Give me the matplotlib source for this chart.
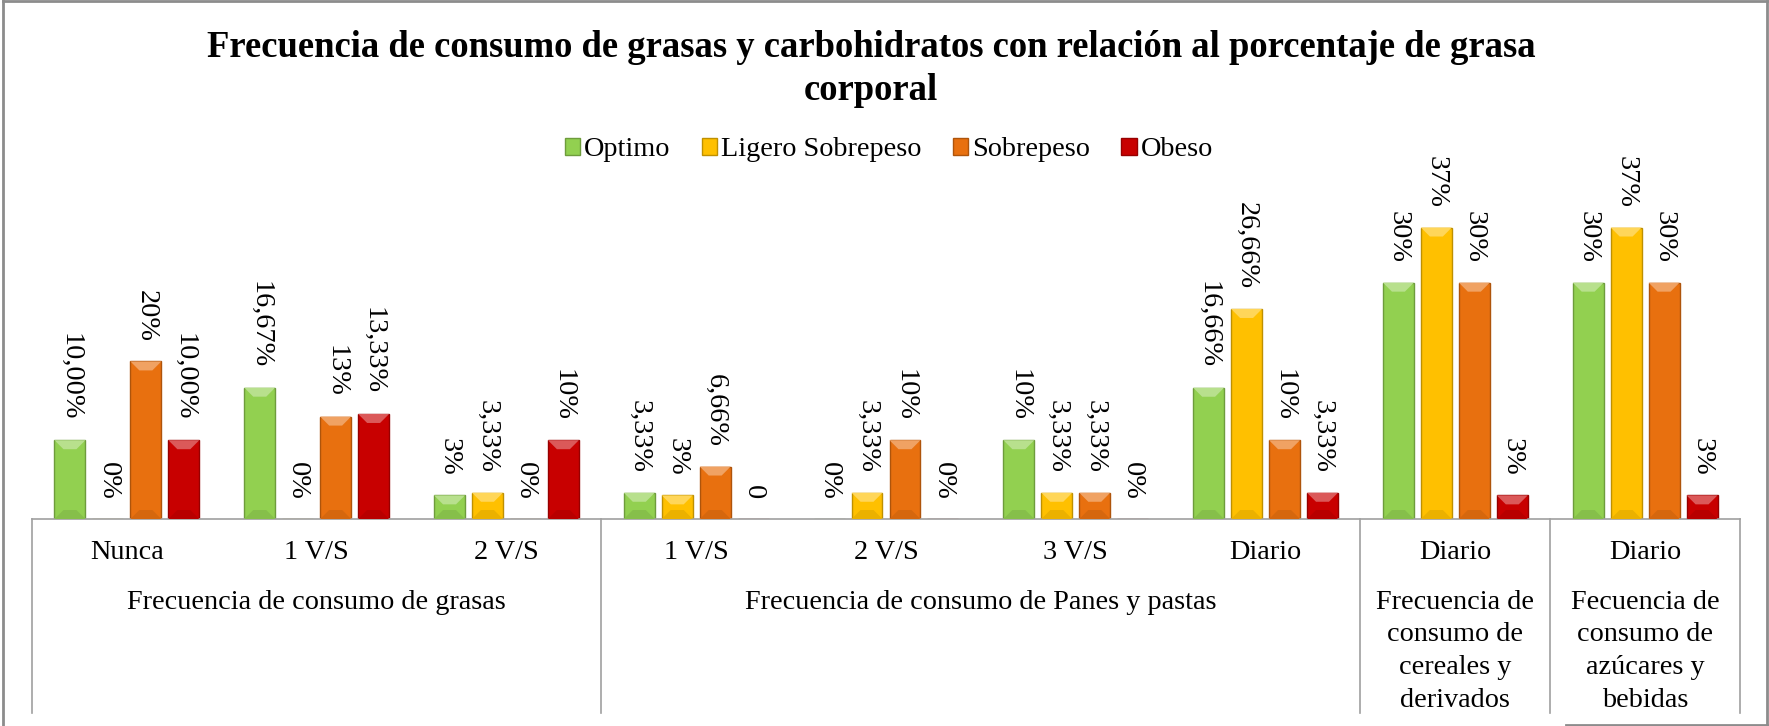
import numpy as np
import matplotlib.pyplot as plt
import matplotlib.transforms as mtransforms
from matplotlib.patches import Polygon, Patch
from matplotlib.lines import Line2D
from matplotlib.colors import to_rgb

plt.rcParams['font.family'] = ['Liberation Serif', 'DejaVu Serif']

CATEGORIES = ['Nunca', '1 V/S', '2 V/S', '1 V/S', '2 V/S', '3 V/S', 'Diario', 'Diario', 'Diario']
GROUPS = ['Frecuencia de consumo de grasas',
          'Frecuencia de consumo de Panes y pastas',
          'Frecuencia de\nconsumo de\ncereales y\nderivados',
          'Fecuencia de\nconsumo de\nazúcares y\nbebidas']
GROUP_SIZES = [3, 4, 1, 1]
SERIES = ['Optimo', 'Ligero Sobrepeso', 'Sobrepeso', 'Obeso']

optimo = [10, 16.67, 3, 3.33, 0, 10, 16.66, 30, 30]
ligero = [0, 0, 3.33, 3, 3.33, 3.33, 26.66, 37, 37]
sobrepeso = [20, 13, 0, 6.66, 10, 3.33, 10, 30, 30]
obeso = [10, 13.33, 10, 0, 0, 0, 3.33, 3, 3]

optimo_lbl = ['10,00%', '16,67%', '3%', '3,33%', '0%', '10%', '16,66%', '30%', '30%']
ligero_lbl = ['0%', '0%', '3,33%', '3%', '3,33%', '3,33%', '26,66%', '37%', '37%']
sobrepeso_lbl = ['20%', '13%', '0%', '6,66%', '10%', '3,33%', '10%', '30%', '30%']
obeso_lbl = ['10,00%', '13,33%', '10%', '0', '0%', '0%', '3,33%', '3%', '3%']

COLORS = ['#92D050', '#FFC000', '#E8700F', '#C80000']
FS = 20.3

W, H = 1769, 726
fig = plt.figure(figsize=(W / 100, H / 100), dpi=100)
# plot area in pixels: x 32..1740, baseline at 519, top at 170
ax = fig.add_axes([32 / W, (H - 519) / H, (1740 - 32) / W, (519 - 170) / H])
ax.set_xlim(-0.5, 8.5)
ax.set_ylim(0, 44.3)

GRID = '#A0A0A0'
for s in ['top', 'right', 'left']:
    ax.spines[s].set_visible(False)
ax.spines['bottom'].set_color(GRID)
ax.spines['bottom'].set_linewidth(1.2)
ax.set_yticks([])

x = np.arange(len(CATEGORIES))
pitch = 0.2
bw = 0.163
values = [optimo, ligero, sobrepeso, obeso]
labels = [optimo_lbl, ligero_lbl, sobrepeso_lbl, obeso_lbl]


def shade(c, f):
    r, g, b = to_rgb(c)
    if f > 0:
        return (r + (1 - r) * f, g + (1 - g) * f, b + (1 - b) * f)
    return (r * (1 + f), g * (1 + f), b * (1 + f))


def bevel(xc, h, color):
    if h <= 0:
        return
    p0 = ax.transData.transform((0, 0))
    p1 = ax.transData.transform((bw, h))
    wpx, hpx = p1 - p0
    d = min(9, hpx / 2)
    dy = d * h / hpx
    dx = min(d, wpx / 2) * bw / wpx
    x0, x1 = xc - bw / 2, xc + bw / 2
    ax.add_patch(Polygon([(x0, h), (x1, h), (x1 - dx, h - dy), (x0 + dx, h - dy)],
                         closed=True, facecolor=shade(color, 0.35), edgecolor='none', zorder=3))
    ax.add_patch(Polygon([(x0, 0), (x1, 0), (x1 - dx, dy), (x0 + dx, dy)],
                         closed=True, facecolor=shade(color, -0.08), edgecolor='none', zorder=3))


for i, (vals, lbls, col) in enumerate(zip(values, labels, COLORS)):
    xs = x + (i - 1.5) * pitch
    ax.bar(xs, vals, width=bw, color=col, edgecolor=shade(col, -0.25), linewidth=1.0, zorder=2)
    for xc, v, t in zip(xs, vals, lbls):
        bevel(xc, v, col)
        ax.annotate(t, (xc, v), xytext=(0, 14), textcoords='offset points',
                    rotation=270, ha='center', va='bottom', fontsize=FS, zorder=4)

ax.set_xticks(x)
ax.set_xticklabels(CATEGORIES, fontsize=FS)
ax.tick_params(axis='x', length=0, pad=15)

# multi-level category table
trans = mtransforms.blended_transform_factory(ax.transData, ax.transAxes)
y_low = -(713 - 519) / (519 - 170)
edges = np.cumsum([0] + GROUP_SIZES) - 0.5
for e in edges:
    ax.add_line(Line2D([e, e], [0, y_low], transform=trans, color=GRID, lw=1.2, clip_on=False))
for k, g in enumerate(GROUPS):
    gc = (edges[k] + edges[k + 1]) / 2
    ax.annotate(g, (gc, 0), xycoords=trans, xytext=(0, -51), textcoords='offset points',
                ha='center', va='top', fontsize=FS, linespacing=1.4)

fig.suptitle('Frecuencia de consumo de grasas y carbohidratos con relación al porcentaje de grasa\ncorporal',
             x=0.4925, y=1 - 30 / H, va='top', fontsize=26.4, fontweight='bold', linespacing=1.3)

handles = [Patch(facecolor=c, edgecolor=shade(c, -0.25)) for c in COLORS]
fig.legend(handles, SERIES, loc='center', bbox_to_anchor=(889 / W, 1 - 150 / H), ncol=4,
           frameon=False, fontsize=FS, handlelength=0.55, handleheight=0.55,
           handletextpad=0.15, columnspacing=1.1)

# outer chart border (cropped at the bottom)
BORDER = '#8C8C8C'
fig.add_artist(Line2D([3 / W, 3 / W], [0, 1 - 1 / H], color=BORDER, lw=2))
fig.add_artist(Line2D([3 / W, 1767 / W], [1 - 1 / H, 1 - 1 / H], color=BORDER, lw=2))
fig.add_artist(Line2D([1767 / W, 1767 / W], [1 - 1 / H, 1 / H], color=BORDER, lw=2))
fig.add_artist(Line2D([1566 / W, 1767 / W], [1 / H, 1 / H], color=BORDER, lw=2))

fig.savefig('out.png', dpi=100)
